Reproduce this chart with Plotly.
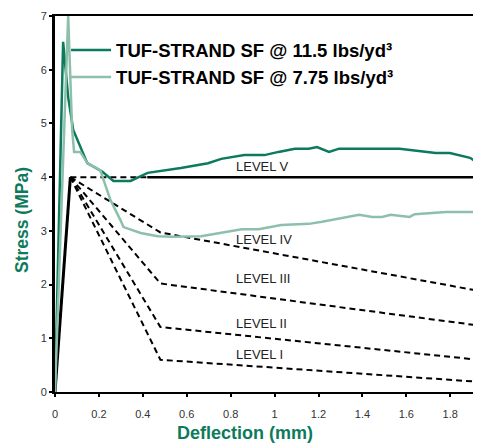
import plotly.graph_objects as go

# ---- data ----
sf115_x = [0, 0.037, 0.06, 0.083, 0.147, 0.216, 0.266, 0.344, 0.422, 0.573, 0.697, 0.757,
           0.862, 0.954, 1.018, 1.092, 1.156, 1.193, 1.248, 1.294, 1.569, 1.706, 1.734,
           1.798, 1.89, 1.931, 1.96]
sf115_y = [0, 6.52, 5.49, 4.88, 4.26, 4.10, 3.93, 3.93, 4.08, 4.17, 4.26, 4.34,
           4.41, 4.41, 4.47, 4.53, 4.53, 4.56, 4.47, 4.53, 4.53, 4.47, 4.45,
           4.45, 4.36, 4.25, 4.28]

sf775_x = [0, 0.06, 0.078, 0.087, 0.115, 0.147, 0.206, 0.252, 0.298, 0.312, 0.39, 0.468,
           0.54, 0.665, 0.85, 0.927, 1.03, 1.156, 1.216, 1.385, 1.445, 1.49, 1.528,
           1.615, 1.638, 1.78, 1.96]
sf775_y = [0, 7.0, 4.88, 4.47, 4.47, 4.26, 4.13, 3.58, 3.20, 3.07, 2.96, 2.90,
           2.89, 2.90, 3.03, 3.03, 3.11, 3.13, 3.17, 3.30, 3.26, 3.26, 3.30,
           3.26, 3.31, 3.35, 3.35]

elastic_x = [0, 0.07]
elastic_y = [0, 4.0]

level_names = ["LEVEL I", "LEVEL II", "LEVEL III", "LEVEL IV"]
level_x = [0.07, 0.48, 2.0]
level_y = {
    "LEVEL I": [4.0, 0.60, 0.17],
    "LEVEL II": [4.0, 1.21, 0.57],
    "LEVEL III": [4.0, 2.02, 1.20],
    "LEVEL IV": [4.0, 2.97, 1.83],
}
level5_dash_x = [0.07, 0.42]
level5_solid_x = [0.42, 2.0]
level5_y = 4.0

label_x = 0.815
label_y = {"LEVEL V": 4.19, "LEVEL IV": 2.83, "LEVEL III": 2.12, "LEVEL II": 1.28, "LEVEL I": 0.69}

x_ticks = [0, 0.2, 0.4, 0.6, 0.8, 1, 1.2, 1.4, 1.6, 1.8, 2]
x_tick_text = ["0", "0.2", "0.4", "0.6", "0.8", "1", "1.2", "1.4", "1.6", "1.8", "2"]
y_ticks = [0, 1, 2, 3, 4, 5, 6, 7]

DARK = "#0b7a5f"
LIGHT = "#8cc0aa"
TITLE_GREEN = "#0e7a5c"
SANS = "Liberation Sans, Arial, sans-serif"

fig = go.Figure()

# level lines
for name in level_names:
    fig.add_trace(go.Scatter(x=level_x, y=level_y[name], mode="lines",
                             line=dict(color="black", width=2, dash="6px,4px"),
                             showlegend=False, hoverinfo="skip"))
fig.add_trace(go.Scatter(x=level5_solid_x, y=[level5_y, level5_y], mode="lines",
                         line=dict(color="black", width=2.5), showlegend=False))
fig.add_trace(go.Scatter(x=level5_dash_x, y=[level5_y, level5_y], mode="lines",
                         line=dict(color="black", width=2, dash="6px,4px"), showlegend=False))
fig.add_trace(go.Scatter(x=elastic_x, y=elastic_y, mode="lines",
                         line=dict(color="black", width=3), showlegend=False))

fig.add_trace(go.Scatter(x=sf115_x, y=sf115_y, mode="lines",
                         line=dict(color=DARK, width=2.5),
                         name="<b>TUF-STRAND SF @ 11.5 lbs/yd³</b>"))
fig.add_trace(go.Scatter(x=sf775_x, y=sf775_y, mode="lines",
                         line=dict(color=LIGHT, width=2.5),
                         name="<b>TUF-STRAND SF @ 7.75 lbs/yd³</b>"))

for name, yv in label_y.items():
    fig.add_annotation(x=label_x, y=yv, text=name, showarrow=False, xanchor="left",
                       yanchor="middle", font=dict(family=SANS, size=13, color="#222"))

fig.add_annotation(xref="paper", yref="paper", x=(245 - 55) / 426, y=-(433 - 392) / 376,
                   text="<b>Deflection (mm)</b>", showarrow=False, xanchor="center",
                   yanchor="middle", font=dict(family=SANS, size=18, color=TITLE_GREEN))
fig.add_annotation(xref="paper", yref="paper", x=-(55 - 22) / 426, y=(392 - 220) / 376,
                   text="<b>Stress (MPa)</b>", showarrow=False, textangle=-90,
                   xanchor="center", yanchor="middle",
                   font=dict(family=SANS, size=17.5, color=TITLE_GREEN))

# page body has an 8px margin, so the figure is sized/offset to land on the window
fig.update_layout(
    width=473, height=435,
    margin=dict(l=47, r=0, t=8, b=51),
    paper_bgcolor="white", plot_bgcolor="white",
    showlegend=True,
    legend=dict(x=0.026, y=0.959, xanchor="left", yanchor="top",
                bgcolor="rgba(0,0,0,0)", font=dict(family=SANS, size=18.5, color="black"),
                itemwidth=40, tracegroupgap=0),
    xaxis=dict(range=[0, 1.94], tickvals=x_ticks, ticktext=x_tick_text,
               showgrid=False, zeroline=False, showline=True, linecolor="black",
               linewidth=2, mirror=True, ticks="outside", ticklen=3, tickwidth=2,
               tickcolor="black", tickfont=dict(family=SANS, size=11, color="#333"),
               ticklabelstandoff=8),
    yaxis=dict(range=[0, 7], tickvals=y_ticks, showgrid=False, zeroline=False,
               showline=True, linecolor="black", linewidth=3, ticks="outside",
               ticklen=3, tickwidth=2, tickcolor="black",
               tickfont=dict(family=SANS, size=11, color="#333")),
)

fig.write_html("out.html")
